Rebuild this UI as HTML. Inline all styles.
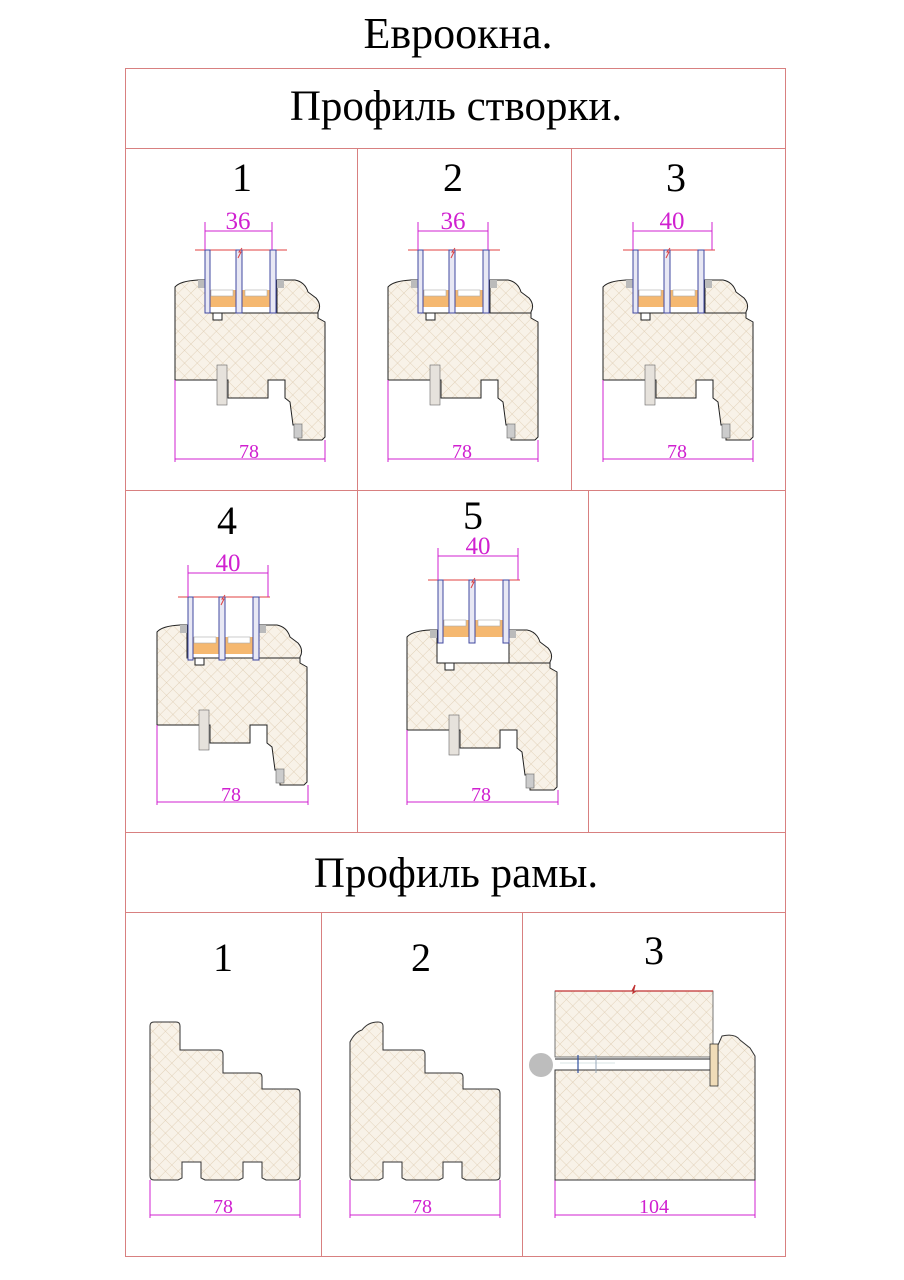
<!DOCTYPE html>
<html><head><meta charset="utf-8"><style>
html,body{margin:0;padding:0;background:#fff;}
svg{display:block;}
text{font-family:"Liberation Serif",serif;}
</style></head><body>
<svg width="904" height="1280" viewBox="0 0 904 1280" xmlns="http://www.w3.org/2000/svg">
<defs>
<pattern id="h" width="9" height="9" patternUnits="userSpaceOnUse" patternTransform="rotate(45)">
<rect width="9" height="9" fill="#f8f2e8"/>
<path d="M0,0 H9 M0,0 V9" stroke="#dcc9ad" stroke-width="0.8"/>
</pattern>
<g id="glass">
<line x1="-10" y1="0" x2="82" y2="0" stroke="#e04040" stroke-width="1"/>
<rect x="3" y="40" width="28" height="17" fill="#f5b870"/>
<rect x="37" y="40" width="28" height="17" fill="#f5b870"/>
<rect x="6" y="40" width="22" height="6" fill="#fff" stroke="#aaa" stroke-width="0.6"/>
<rect x="40" y="40" width="22" height="6" fill="#fff" stroke="#aaa" stroke-width="0.6"/>
<rect x="0" y="0" width="5" height="63" fill="#e8e8f4" stroke="#4048a0" stroke-width="1"/>
<rect x="31" y="0" width="6" height="63" fill="#e8e8f4" stroke="#4048a0" stroke-width="1"/>
<rect x="65" y="0" width="6" height="63" fill="#e8e8f4" stroke="#4048a0" stroke-width="1"/>
<path d="M33,8 l3,-6 l-2,0 l3,-4" stroke="#e04040" fill="none" stroke-width="1"/>
</g>
<g id="sash">
<path d="M175,287 Q180,281 198,280 L205,280 L205,313 L213,313 L213,320 L222,320 L222,313 L277,313 L277,280 L295,280 Q305,282 308,292 L316,298 Q322,305 318,312 L318,318 L325,322 L325,437 L322,440 L298,440 L298,425 L293,425 L290,402 L285,398 L285,380 L268,380 L268,398 L228,398 L228,380 L175,380 Z" fill="url(#h)" stroke="#222" stroke-width="1"/>
<line x1="205" y1="313" x2="318" y2="313" stroke="#222" stroke-width="1"/>
<rect x="217" y="365" width="10" height="40" fill="#e6e2dc" stroke="#666" stroke-width="0.6"/>
<rect x="294" y="424" width="8" height="14" fill="#ccc" stroke="#666" stroke-width="0.6"/>
<rect x="198" y="280" width="7" height="8" fill="#bbb"/>
<rect x="277" y="280" width="7" height="8" fill="#bbb"/>
</g>
</defs>

<text x="458" y="48" font-size="44" text-anchor="middle">Евроокна.</text>

<g stroke="#d88080" stroke-width="1" fill="none">
<rect x="125.5" y="68.5" width="660" height="1188"/>
<line x1="125" y1="148.5" x2="785" y2="148.5"/>
<line x1="125" y1="490.5" x2="785" y2="490.5"/>
<line x1="125" y1="832.5" x2="785" y2="832.5"/>
<line x1="125" y1="912.5" x2="785" y2="912.5"/>
<line x1="357.5" y1="148" x2="357.5" y2="832"/>
<line x1="571.5" y1="148" x2="571.5" y2="490"/>
<line x1="588.5" y1="490" x2="588.5" y2="832"/>
<line x1="321.5" y1="912" x2="321.5" y2="1256"/>
<line x1="522.5" y1="912" x2="522.5" y2="1256"/>
</g>

<text x="456" y="120" font-size="43" text-anchor="middle">Профиль створки.</text>
<text x="456" y="887" font-size="43" text-anchor="middle">Профиль рамы.</text>

<g font-size="40" text-anchor="middle">
<text x="242" y="191">1</text><text x="453" y="191">2</text><text x="676" y="191">3</text>
<text x="227" y="534">4</text><text x="473" y="529">5</text>
<text x="223" y="971">1</text><text x="421" y="971">2</text><text x="654" y="964">3</text>
</g>

<use href="#sash"/>
<use href="#glass" x="205" y="250"/>
<use href="#sash" x="213" y="0"/>
<use href="#glass" x="418" y="250"/>
<use href="#sash" x="428" y="0"/>
<use href="#glass" x="633" y="250"/>
<use href="#sash" x="-18" y="345"/>
<use href="#glass" x="188" y="597"/>
<use href="#sash" x="232" y="350"/>
<use href="#glass" x="438" y="580"/>

<g stroke="#d020d0" stroke-width="1" fill="none">
<path d="M205,222V250 M272,222V250 M205,231H272"/>
<path d="M418,222V250 M488,222V250 M418,231H488"/>
<path d="M633,222V250 M712,222V250 M633,231H712"/>
<path d="M188,565V597 M268,565V597 M188,573H268"/>
<path d="M438,548V580 M518,548V580 M438,556H518"/>
<path d="M175,380V462 M325,440V462 M175,459H325"/>
<path d="M388,380V462 M538,440V462 M388,459H538"/>
<path d="M603,380V462 M753,440V462 M603,459H753"/>
<path d="M157,725V805 M308,785V805 M157,802H308"/>
<path d="M407,730V805 M558,790V805 M407,802H558"/>
<path d="M150,1180V1218 M300,1180V1218 M150,1215H300"/>
<path d="M350,1180V1218 M500,1180V1218 M350,1215H500"/>
<path d="M555,1180V1218 M755,1180V1218 M555,1215H755"/>
</g>
<g fill="#d020d0" font-size="25" text-anchor="middle">
<text x="238" y="229">36</text><text x="453" y="229">36</text><text x="672" y="229">40</text>
<text x="228" y="571">40</text><text x="478" y="554">40</text>
</g>
<g fill="#d020d0" font-size="20" text-anchor="middle">
<text x="249" y="458">78</text><text x="462" y="458">78</text><text x="677" y="458">78</text>
<text x="231" y="801">78</text><text x="481" y="801">78</text>
<text x="223" y="1213">78</text><text x="422" y="1213">78</text><text x="654" y="1213">104</text>
</g>

<path d="M150,1026 Q150,1022 154,1022 L176,1022 Q180,1022 180,1026 L180,1050 L219,1050 Q223,1050 223,1054 L223,1073 L258,1073 Q262,1073 262,1077 L262,1089 L296,1089 Q300,1089 300,1093 L300,1176 Q300,1180 296,1180 L266,1180 L262,1178 L262,1162 L243,1162 L243,1178 L239,1180 L205,1180 L201,1178 L201,1162 L182,1162 L182,1178 L178,1180 L154,1180 Q150,1180 150,1176 Z" fill="url(#h)" stroke="#333" stroke-width="1"/>
<path d="M350,1042 Q355,1032 362,1030 Q368,1022 378,1022 Q383,1022 383,1026 L383,1050 L421,1050 Q425,1050 425,1054 L425,1073 L459,1073 Q463,1073 463,1077 L463,1089 L496,1089 Q500,1089 500,1093 L500,1176 Q500,1180 496,1180 L466,1180 L462,1178 L462,1162 L443,1162 L443,1178 L439,1180 L406,1180 L402,1178 L402,1162 L383,1162 L383,1178 L379,1180 L354,1180 Q350,1180 350,1176 Z" fill="url(#h)" stroke="#333" stroke-width="1"/>
<rect x="555" y="991" width="158" height="66" fill="url(#h)" stroke="#555" stroke-width="0.8"/>
<path d="M555,991 H632 l3,-6 l-2,8 l3,-2 H713" stroke="#c03030" stroke-width="1.2" fill="none"/>
<path d="M555,1070 L718,1070 L718,1045 L722,1036 Q735,1033 740,1040 L750,1048 L755,1056 L755,1180 L555,1180 Z" fill="url(#h)" stroke="#333" stroke-width="1"/>
<rect x="555" y="1059" width="160" height="10" fill="#fff"/>
<line x1="555" y1="1059" x2="713" y2="1059" stroke="#222" stroke-width="1"/>
<line x1="560" y1="1063" x2="615" y2="1063" stroke="#cdd" stroke-width="0.8"/>
<line x1="578" y1="1055" x2="578" y2="1073" stroke="#3050a0" stroke-width="1.2"/>
<line x1="596" y1="1055" x2="596" y2="1073" stroke="#9ab" stroke-width="1"/>
<rect x="710" y="1044" width="8" height="42" fill="#f0dcb8" stroke="#333" stroke-width="0.8"/>
<circle cx="541" cy="1065" r="12" fill="#bdbdbd"/>
</svg>
</body></html>
